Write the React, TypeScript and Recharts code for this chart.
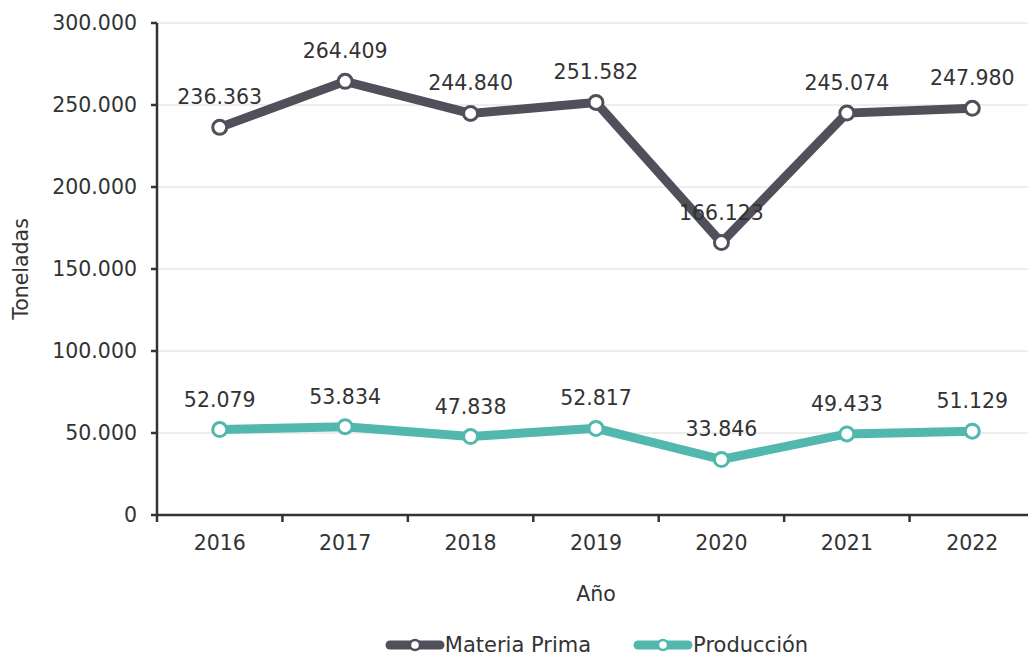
import { LineChart, Line, XAxis, YAxis, CartesianGrid, Legend, LabelList } from 'recharts';

const years = ['2016', '2017', '2018', '2019', '2020', '2021', '2022'];
const materiaPrima = [236363, 264409, 244840, 251582, 166123, 245074, 247980];
const produccion = [52079, 53834, 47838, 52817, 33846, 49433, 51129];
const yTicks = [0, 50000, 100000, 150000, 200000, 250000, 300000];

const DARK = '#4f505a';
const TEAL = '#52b8ad';
const TEXT = '#333333';
const FONT = '"DejaVu Sans", sans-serif';
const FS = 20.5;

const WIDTH = 1036;
const HEIGHT = 659;
const Y_AXIS_W = 157;
const BAND = (WIDTH - Y_AXIS_W - 1) / years.length;

const data = years.map((year, i) => ({
  year,
  materia: materiaPrima[i],
  produccion: produccion[i],
}));

const fmt = (v: number) => String(v).replace(/\B(?=(\d{3})+(?!\d))/g, '.');

// category label at band centre, tick mark at band boundary
function XTick(props: any) {
  const { x, y, payload } = props;
  return (
    <g>
      <line x1={x - BAND / 2} x2={x - BAND / 2} y1={y} y2={y + 7} stroke="#333" strokeWidth={2.5} />
      <text x={x} y={y + 35} textAnchor="middle" fill={TEXT} fontSize={FS} fontFamily={FONT}>
        {payload.value}
      </text>
    </g>
  );
}

function LegendContent() {
  const items = [
    { name: 'Materia Prima', color: DARK },
    { name: 'Producción', color: TEAL },
  ];
  return (
    <div style={{ display: 'flex', justifyContent: 'center', gap: 42, height: 28, alignItems: 'center' }}>
      {items.map((it) => (
        <div key={it.name} style={{ display: 'flex', alignItems: 'center' }}>
          <svg width={60} height={16}>
            <line x1={5} x2={55} y1={8} y2={8} stroke={it.color} strokeWidth={9} strokeLinecap="round" />
            <circle cx={30} cy={8} r={5} fill="#fff" stroke={it.color} strokeWidth={2.5} />
          </svg>
          <span style={{ fontFamily: FONT, fontSize: 21, color: TEXT }}>{it.name}</span>
        </div>
      ))}
    </div>
  );
}

export default function App() {
  return (
    <div style={{ position: 'absolute', left: 0, top: 0, width: 1028, height: HEIGHT, overflow: 'hidden', background: '#fff' }}>
      <LineChart width={WIDTH} height={HEIGHT} data={data} margin={{ top: 23, right: 1, left: 0, bottom: 0 }}>
        <CartesianGrid vertical={false} stroke="#dcdcdc" strokeWidth={1} />
        <XAxis
          dataKey="year"
          height={116}
          padding={{ left: BAND / 2, right: BAND / 2 }}
          tickSize={0}
          tickMargin={0}
          tickLine={false}
          axisLine={{ stroke: '#333', strokeWidth: 2.5 }}
          tick={<XTick />}
          interval={0}
          label={({ viewBox }: any) => (
            <text
              x={viewBox.x + viewBox.width / 2}
              y={viewBox.y + 86}
              textAnchor="middle"
              fill={TEXT}
              fontSize={FS}
              fontFamily={FONT}
            >
              Año
            </text>
          )}
        />
        <YAxis
          width={Y_AXIS_W}
          domain={[0, 300000]}
          ticks={yTicks}
          interval={0}
          tickFormatter={fmt}
          tickSize={6}
          tickMargin={14}
          axisLine={{ stroke: '#333', strokeWidth: 2.5 }}
          tickLine={{ stroke: '#333', strokeWidth: 2.5 }}
          tick={{ fill: TEXT, fontSize: FS, fontFamily: FONT }}
          label={({ viewBox }: any) => (
            <text
              x={28}
              y={viewBox.y + viewBox.height / 2}
              transform={`rotate(-90, 28, ${viewBox.y + viewBox.height / 2})`}
              textAnchor="middle"
              fill={TEXT}
              fontSize={FS}
              fontFamily={FONT}
            >
              Toneladas
            </text>
          )}
        />
        <Legend
          verticalAlign="bottom"
          content={<LegendContent />}
          wrapperStyle={{ left: Y_AXIS_W, width: WIDTH - Y_AXIS_W, bottom: 0 }}
        />
        <Line
          name="Materia Prima"
          dataKey="materia"
          stroke={DARK}
          strokeWidth={9}
          dot={{ r: 7, fill: '#fff', stroke: DARK, strokeWidth: 3 }}
          activeDot={false}
          isAnimationActive={false}
        >
          <LabelList dataKey="materia" position="top" offset={23} formatter={fmt} fill={TEXT} fontSize={FS} fontFamily={FONT} />
        </Line>
        <Line
          name="Producción"
          dataKey="produccion"
          stroke={TEAL}
          strokeWidth={9}
          dot={{ r: 7, fill: '#fff', stroke: TEAL, strokeWidth: 3 }}
          activeDot={false}
          isAnimationActive={false}
        >
          <LabelList dataKey="produccion" position="top" offset={23} formatter={fmt} fill={TEXT} fontSize={FS} fontFamily={FONT} />
        </Line>
      </LineChart>
    </div>
  );
}
